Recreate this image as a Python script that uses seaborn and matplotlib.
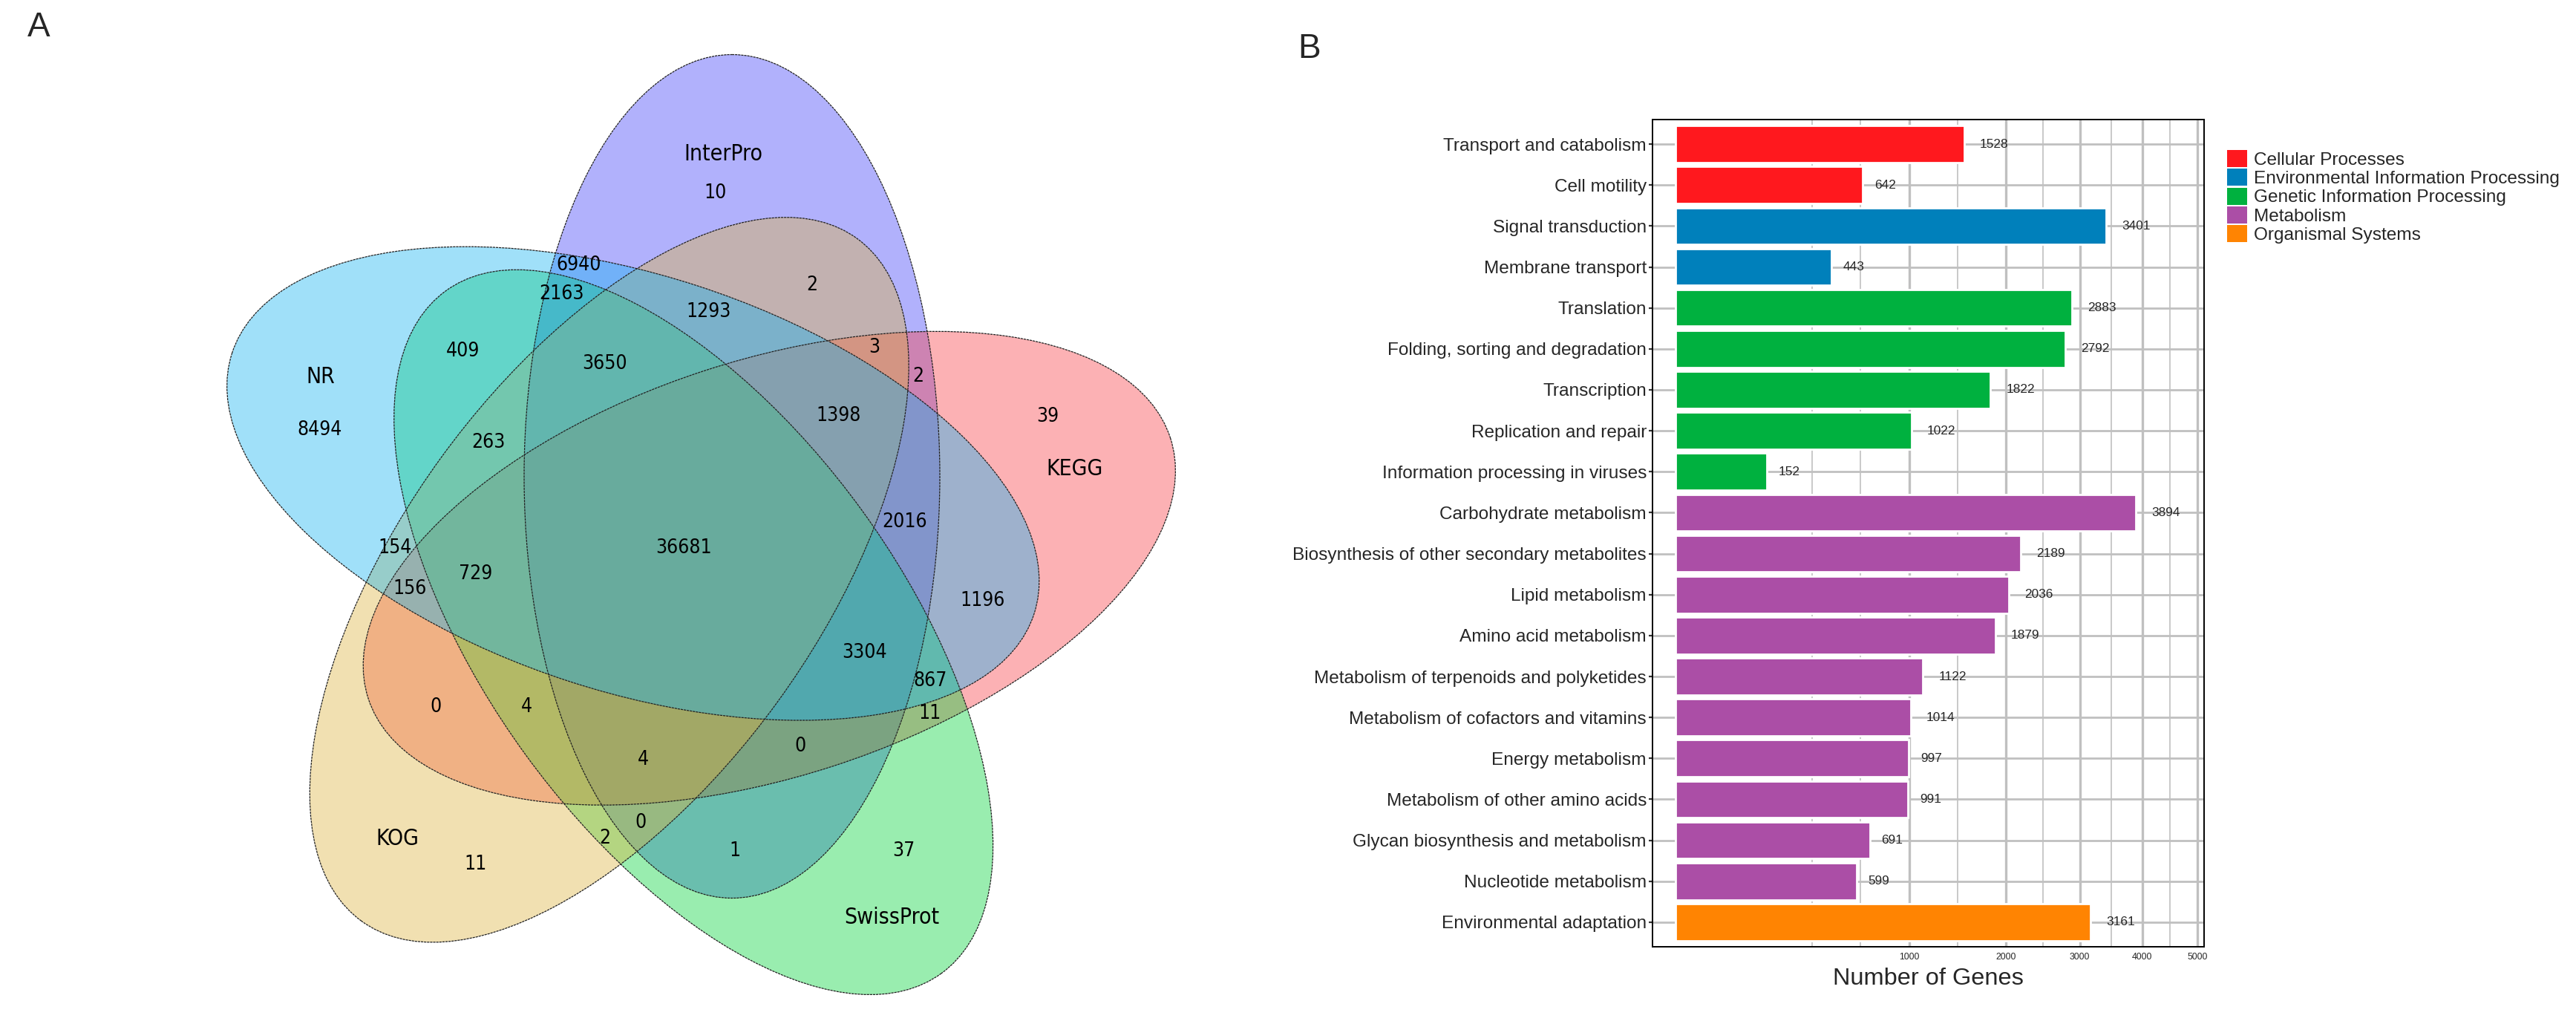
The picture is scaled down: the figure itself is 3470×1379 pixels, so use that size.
import numpy as np
import pandas as pd
import matplotlib
matplotlib.use('Agg')
import matplotlib.pyplot as plt
from matplotlib.patches import Ellipse, Patch
from matplotlib.ticker import FixedLocator
import seaborn as sns

# ---------------- data: KEGG classification (panel B)
pathways = ['Transport and catabolism', 'Cell motility', 'Signal transduction',
            'Membrane transport', 'Translation', 'Folding, sorting and degradation',
            'Transcription', 'Replication and repair', 'Information processing in viruses',
            'Carbohydrate metabolism', 'Biosynthesis of other secondary metabolites',
            'Lipid metabolism', 'Amino acid metabolism',
            'Metabolism of terpenoids and polyketides', 'Metabolism of cofactors and vitamins',
            'Energy metabolism', 'Metabolism of other amino acids',
            'Glycan biosynthesis and metabolism', 'Nucleotide metabolism',
            'Environmental adaptation']
gene_counts = [1528, 642, 3401, 443, 2883, 2792, 1822, 1022, 152, 3894,
               2189, 2036, 1879, 1122, 1014, 997, 991, 691, 599, 3161]
pathway_class = (['Cellular Processes'] * 2 + ['Environmental Information Processing'] * 2
                 + ['Genetic Information Processing'] * 5 + ['Metabolism'] * 10
                 + ['Organismal Systems'])
class_names = ['Cellular Processes', 'Environmental Information Processing',
               'Genetic Information Processing', 'Metabolism', 'Organismal Systems']
class_colors = ['#FF181E', '#0080BB', '#00B13F', '#AB4EA6', '#FF8402']
x_ticks = [1000, 2000, 3000, 4000, 5000]

# ---------------- data: annotation overlap (panel A)
venn_sets = ['InterPro', 'KEGG', 'SwissProt', 'KOG', 'NR']
venn_counts = [8494, 10, 39, 37, 11, 6940, 2163, 2, 1293, 409, 3650, 3, 2, 263, 1398,
               2016, 36681, 154, 729, 156, 1196, 3304, 867, 0, 4, 11, 0, 4, 0, 2, 1]

# ---------------- layout of panel A (pixels of the picture, y downwards)
venn_fill = ['#3E3EF8', '#F83E44', '#00D439', '#DEB23E', '#12B2F2']
venn_center = (926, 738)
first_offset = (60, -96.5)
semi_long, semi_short = 568, 280
set_label_xy = [(974, 207), (1448, 632), (1201, 1235), (535, 1129), (432, 508)]
count_xy = [(431, 579), (964, 260), (1411, 561), (1217, 1146), (640, 1164),
            (780, 357), (757, 396), (1094, 384), (955, 420), (623, 473), (815, 490),
            (1178, 468), (1237, 507), (658, 596), (1130, 560), (1219, 703), (921, 738),
            (532, 738), (641, 773), (552, 793), (1324, 809), (1165, 879), (1253, 917),
            (587, 952), (709, 952), (1253, 961), (1078, 1005), (866, 1023), (863, 1108),
            (815, 1129), (990, 1146)]

sns.set_theme(style='white')
plt.rcParams['font.family'] = ['Liberation Sans', 'DejaVu Sans']

W, H = 3470, 1379
fig = plt.figure(figsize=(W / 200, H / 200), dpi=200)

# ---------------- panel A: five-set Venn
axv = fig.add_axes([0, 0, 1700 / W, 1])
axv.set_xlim(0, 1700)
axv.set_ylim(H, 0)
axv.axis('off')

centers = []
for k, col in enumerate(venn_fill):
    t = np.deg2rad(72 * k)
    dx, dy = first_offset
    cx = venn_center[0] + dx * np.cos(t) - dy * np.sin(t)
    cy = venn_center[1] + dx * np.sin(t) + dy * np.cos(t)
    centers.append((cx, cy))
    axv.add_patch(Ellipse((cx, cy), 2 * semi_short, 2 * semi_long, angle=72 * k,
                          facecolor=col, edgecolor='none', alpha=0.4))
for k, (cx, cy) in enumerate(centers):
    axv.add_patch(Ellipse((cx, cy), 2 * semi_short, 2 * semi_long, angle=72 * k,
                          facecolor='none', edgecolor='#222222', lw=0.45,
                          linestyle=(0, (2.5, 0.8))))

vfont = dict(family='DejaVu Sans', fontstretch='condensed', ha='center', va='center',
             color='black')
for name, (x, y) in zip(venn_sets, set_label_xy):
    axv.text(x, y, name, fontsize=10.8, **vfont)
for n, (x, y) in zip(venn_counts, count_xy):
    axv.text(x, y, str(n), fontsize=9.5, **vfont)

fig.text(52 / W, 1 - 37 / H, 'A', fontsize=16.5, ha='center', va='center')
fig.text(1764 / W, 1 - 66 / H, 'B', fontsize=16.5, ha='center', va='center')

# ---------------- panel B: bar chart on a square-root axis
left, right, top, bottom = 2226, 2969, 161, 1275
ax = fig.add_axes([left / W, 1 - bottom / H, (right - left) / W, (bottom - top) / H])

df = pd.DataFrame({'pathway': pathways, 'genes': gene_counts, 'cls': pathway_class})
sns.barplot(data=df, y='pathway', x='genes', hue='cls', order=pathways,
            hue_order=class_names, palette=dict(zip(class_names, class_colors)),
            dodge=False, width=0.9, saturation=1, legend=False, ax=ax, zorder=3)

fwd = lambda v: np.sign(v) * np.sqrt(np.abs(v))
inv = lambda v: np.sign(v) * v ** 2
ax.set_xscale('function', functions=(fwd, inv))
ax.set_xlim(-10, 5131)
ax.set_ylim(len(pathways) - 0.4, -0.6)

# ggplot-like minor breaks (midpoints in sqrt space, one step below)
tb = np.sqrt(x_ticks)
step = tb[1] - tb[0]
ext = np.concatenate([[tb[0] - step], tb])
minor = np.concatenate([[ext[0]], (ext[:-1] + ext[1:]) / 2])
ax.xaxis.set_major_locator(FixedLocator(x_ticks))
ax.xaxis.set_minor_locator(FixedLocator(minor ** 2))
ax.set_axisbelow(True)
ax.grid(which='major', axis='x', color='#C0C0C0', lw=1.2)
ax.grid(which='minor', axis='x', color='#C0C0C0', lw=0.6)
ax.grid(which='major', axis='y', color='#C0C0C0', lw=1.0)

for i, v in enumerate(gene_counts):
    lab = str(v)
    ax.annotate(lab, (v, i), xytext=(0.55 * len(lab) * 0.556 * 6.2, 0),
                textcoords='offset points', ha='left', va='center', fontsize=6.2)

ax.set_ylabel('')
ax.set_xlabel('Number of Genes', fontsize=11.7, labelpad=3)
ax.tick_params(axis='y', length=1.9, width=0.8, color='#333333', pad=1,
               labelsize=8.8, left=True)
ax.tick_params(axis='x', which='both', length=0, pad=2.8, labelsize=4.4)
for s in ax.spines.values():
    s.set_visible(True)
    s.set_color('black')
    s.set_linewidth(0.7)

handles = [Patch(facecolor=c, edgecolor='none', label=n)
           for n, c in zip(class_names, class_colors)]
fig.legend(handles=handles, loc='upper left', bbox_to_anchor=(3000 / W, 1 - 202 / H),
           frameon=False, fontsize=8.8, handlelength=1.1, handleheight=1.07,
           handletextpad=0.37, labelspacing=0.02, borderpad=0, borderaxespad=0)

fig.savefig('out.png', dpi=200)
